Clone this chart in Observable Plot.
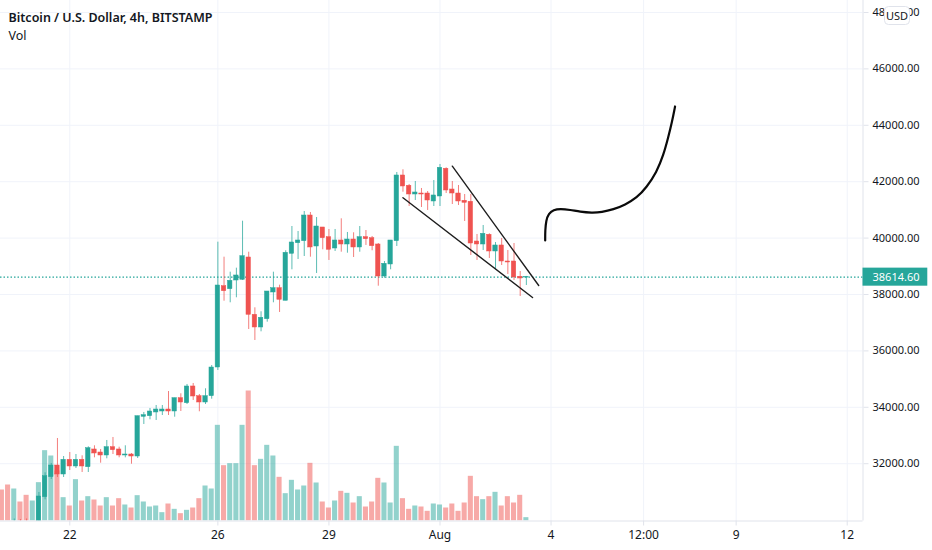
<!DOCTYPE html>
<html><head><meta charset="utf-8">
<script src="https://cdn.jsdelivr.net/npm/d3@7"></script>
<script src="https://cdn.jsdelivr.net/npm/@observablehq/plot@0.6"></script>
<style>html,body{margin:0;padding:0;background:#fff}svg{display:block}</style>
</head><body><div id="chart"></div>
<script>
const title = "Bitcoin / U.S. Dollar, 4h, BITSTAMP";
const subtitle = "Vol";
const firstIndex = -11;
const opens = [29650,29700,29600,29750,29700,29600,
29809,30812,31522,31936,31617,32138,31901,32138,31876,32504,32397,32291,32585,32504,32291,32326,32255,33663,33684,33816,33851,33922,33851,34323,34145,34738,34394,34170,34394,35411,38294,38188,38496,38521,39312,37280,36830,37124,38071,38223,37777,39443,39819,39890,40801,39702,40376,40032,39631,39915,39773,39950,39667,40032,39996,39773,38638,39064,39890,42220,41855,41546,41581,41581,41298,41475,42457,41723,41581,41323,41287,39879,39773,40117,39525,39738,39170,39170,38628,38600];
const closes = [29500,29550,29720,29600,29550,29700,
30837,31557,31936,31617,32138,31901,32138,31901,32550,32362,32291,32585,32479,32291,32326,32255,33684,33720,33851,33922,33922,33851,34323,34170,34738,34383,34170,34394,35411,38319,38117,38486,38674,39358,37280,36830,37174,38106,38223,37812,39479,39844,39915,40801,39667,40411,39996,39585,39915,39773,39950,39667,40032,39961,39713,38638,39089,39915,42220,41830,41546,41617,41546,41333,41511,42493,41688,41581,41298,41252,39808,39773,40152,39525,39738,39170,39135,38603,38567,38614.6];
const highs = [29800,29800,30040,30020,30040,29850,
30979,31677,32007,32894,32255,32397,32326,32280,32599,32635,32504,32823,32929,32585,32635,32362,33684,33816,33958,34064,34064,34560,34323,34479,34809,34844,34454,34656,35482,39855,39323,38791,38933,40599,39500,37528,37387,38106,38791,38330,39550,40411,40234,40943,40908,40730,40376,40305,40305,40684,40199,40188,40411,40269,40057,39808,39170,39915,42326,42422,41901,42007,41759,41652,42042,42610,42493,42007,41865,41546,41546,40128,40447,40152,39844,39986,39560,39808,38816,38640];
const lows = [29300,29350,29400,29350,29300,29400,
29702,30720,31440,31511,31511,31759,31830,31688,31688,32209,32018,32174,32326,32209,32209,31982,32185,33390,33557,33532,33709,33709,33649,33851,34099,34241,33841,34099,34287,35305,37762,37706,37883,38496,36759,36369,36677,37018,37706,37362,37777,38876,39241,39347,39323,38745,39585,39206,39525,39500,39464,39312,39500,39738,39550,38294,38578,38876,39702,41628,41120,41333,41085,40979,41120,41120,41581,41191,41156,40589,39383,39206,39560,39277,38887,39028,38709,38496,37929,38319];
const volumes = [930,1080,960,570,770,600,
1150,2110,1950,1500,700,450,1240,600,730,630,450,700,450,670,480,390,760,570,420,450,250,510,350,220,320,390,670,1050,960,2870,1660,1720,1720,2870,3900,1660,1850,2270,1950,1310,820,1220,930,1050,1730,1140,570,390,600,890,830,540,730,420,570,1280,1140,540,2240,670,350,450,420,290,510,480,390,510,290,540,1340,730,640,730,860,450,730,540,770,100];

const priceTicks = [48000,46000,44000,42000,40000,38000,36000,34000,32000];
const timeTicks = [0,24,42,60,78,93,108,126];
const timeLabels = ["22","26","29","Aug","4","12:00","9","12"];
const lastPrice = 38614.60;

// hand-drawn annotations, as [candle index, price]
const upperLine = [[62,42550],[76,38319]];
const lowerLine = [[54,41429],[75,37894]];
const curve = [[77.05,39915],[77.05,40269],[77.2,40624],[77.6,40862],[78.4,41003],[79.5,41039],[81.1,41003],[82.7,40933],[84.6,40897],[86.2,40918],[88.1,41014],[90,41181],[91.9,41429],[93.5,41805],[95.1,42337],[96.2,42929],[97,43578],[97.6,44110],[98.1,44667]];

const GREEN = "#26a69a", RED = "#ef5350", GRID = "#f0f3fa", EDGE = "#e0e3eb", INK = "#131722";
const FONT = "'Noto Sans', sans-serif";
const xDomain = [-11.23, 128.56], yDomain = [29968, 48425];
const volScale = 35.46 / 30;
const tagSpan = 10.5, tagHalf = 320;   // price-label size in x and y scale units

const candles = opens.map((o, k) => ({
  i: firstIndex + k, open: o, close: closes[k], high: highs[k], low: lows[k],
  vol: volumes[k], color: closes[k] >= o ? GREEN : RED
}));
const fmt = d => d.toFixed(2);
const colorOf = d => d.color;

const usdTag = (index, scales, values, dims) => {
  const x = dims.width - dims.marginRight + 22;
  const g = d3.create("svg:g");
  g.append("rect").attr("x", x).attr("y", 6.5).attr("width", 25).attr("height", 18).attr("rx", 4).attr("fill", "#fff").attr("stroke", EDGE);
  g.append("text").attr("x", x + 12.5).attr("y", 19.5).attr("text-anchor", "middle").attr("fill", INK).attr("font-family", FONT).attr("font-size", 11).text("USD");
  return g.node();
};

const chart = Plot.plot({
  width: 932, height: 550,
  marginLeft: 0, marginRight: 69.5, marginTop: 0, marginBottom: 29.5,
  style: {background: "#fff", fontFamily: FONT, fontSize: "11px", color: INK},
  x: {type: "linear", domain: xDomain, axis: null, label: null},
  y: {type: "linear", domain: yDomain, axis: null, label: null},
  marks: [
    Plot.ruleY(priceTicks, {stroke: GRID, strokeWidth: 1}),
    Plot.ruleX(timeTicks, {stroke: GRID, strokeWidth: 1}),
    // volume
    Plot.rect(candles, {
      x1: d => d.i - 0.41, x2: d => d.i + 0.41,
      y1: () => yDomain[0], y2: d => yDomain[0] + d.vol * volScale,
      fill: colorOf, fillOpacity: 0.5, clip: true
    }),
    // last price line
    Plot.ruleY([lastPrice], {stroke: GREEN, strokeDasharray: "1.5,2", strokeWidth: 1.2}),
    // candles
    Plot.ruleX(candles, {x: d => d.i, y1: "low", y2: "high", stroke: colorOf, strokeWidth: 1, strokeOpacity: 0.75, clip: true}),
    Plot.rect(candles, {
      x1: d => d.i - 0.36, x2: d => d.i + 0.36,
      y1: "open", y2: "close", fill: colorOf, stroke: colorOf, strokeWidth: 0.5, clip: true
    }),
    // drawings
    Plot.line(upperLine, {x: d => d[0], y: d => d[1], stroke: "#1e1e1e", strokeWidth: 1.4}),
    Plot.line(lowerLine, {x: d => d[0], y: d => d[1], stroke: "#1e1e1e", strokeWidth: 1.4}),
    Plot.line(curve, {x: d => d[0], y: d => d[1], curve: "basis", stroke: "#0a0a0a", strokeWidth: 2.2}),
    // axes
    Plot.axisX({ticks: timeTicks, tickFormat: d => timeLabels[timeTicks.indexOf(d)], label: null, tickSize: 5, tickPadding: 4, stroke: EDGE, fill: INK, fontSize: 12}),
    Plot.axisY({anchor: "right", ticks: priceTicks, tickFormat: fmt, label: null, tickSize: 5, tickPadding: 4.5, stroke: EDGE, fill: INK, fontSize: 11}),
    Plot.ruleY([yDomain[0]], {stroke: EDGE}),
    Plot.ruleX([xDomain[1]], {stroke: EDGE}),
    // last price tag
    Plot.rect([lastPrice], {x1: () => xDomain[1], x2: () => xDomain[1] + tagSpan, y1: d => d - tagHalf, y2: d => d + tagHalf, fill: GREEN, clip: false}),
    Plot.text([lastPrice], {x: () => xDomain[1], y: d => d, dx: 9.5, text: fmt, textAnchor: "start", fill: "#fff", fontSize: 11, clip: false}),
    usdTag,
    Plot.text([title], {frameAnchor: "top-left", dx: 8, dy: 12.5, fontSize: 12.5, fontWeight: 600, fill: INK, textAnchor: "start", lineAnchor: "top"}),
    Plot.text([subtitle], {frameAnchor: "top-left", dx: 8, dy: 30.5, fontSize: 12.5, fill: INK, textAnchor: "start", lineAnchor: "top"})
  ]
});
document.getElementById("chart").append(chart);
</script></body></html>
